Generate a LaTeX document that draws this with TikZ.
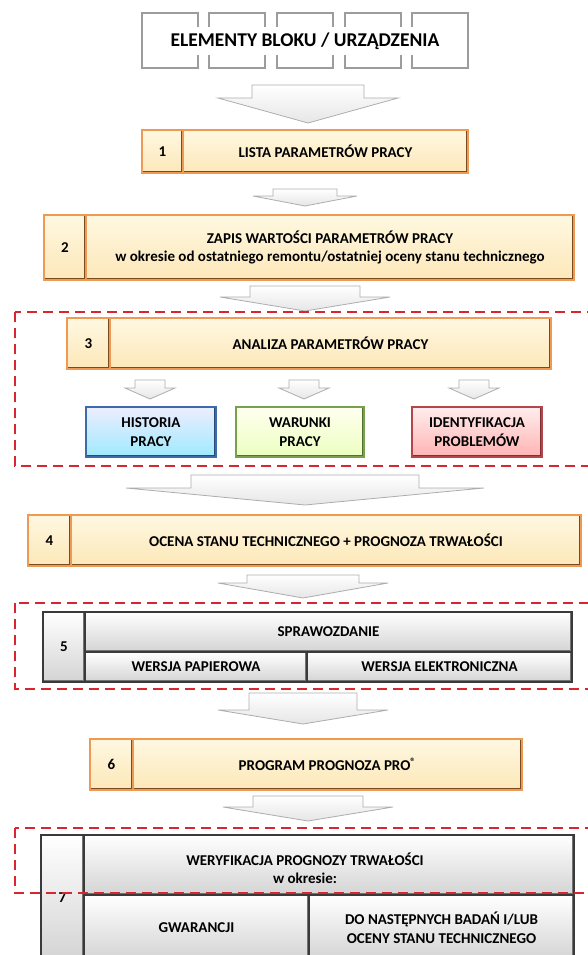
\documentclass[tikz,border=0pt]{standalone}
\usepackage{fontspec}
\setmainfont{Carlito}
\usetikzlibrary{positioning}
\definecolor{boxorange}{HTML}{EE9A55}
\definecolor{boxcream}{HTML}{FDF3CD}
\definecolor{boxbrown}{HTML}{7A4A20}
\definecolor{arrowline}{HTML}{ADADAD}
\definecolor{arrowfill}{HTML}{E6E6E6}
\definecolor{dashred}{HTML}{D9252F}
\definecolor{elemgray}{HTML}{9C9C9C}
\definecolor{blueline}{HTML}{3D6AA8}
\definecolor{greenline}{HTML}{77A14A}
\definecolor{redline}{HTML}{B2464A}
\definecolor{grayline}{HTML}{3A3A3A}
\newcommand{\grayarrow}[6]{%
  \draw[grayarr] (#1-#5,#2) -- (#1+#5,#2) -- (#1+#5,#3) -- (#1+#6,#3) -- (#1,#4)
    -- (#1-#6,#3) -- (#1-#5,#3) -- cycle;}
\begin{document}
\begin{tikzpicture}[x=1pt, y=-1pt,
  font=\bfseries\fontsize{15}{18.5}\selectfont,
  every node/.style={inner sep=0pt, outer sep=0pt, align=center},
  bevel/.style={path picture={\draw[#1, line width=4.5pt]
      (path picture bounding box.north east) -- (path picture bounding box.south east)
      -- (path picture bounding box.south west);}},
  cell/.style={draw=boxorange, line width=1.6pt, top color=boxcream!60, bottom color=boxcream!90!orange,
      minimum height=#1, bevel=boxbrown},
  graycell/.style={draw=grayline, line width=1.3pt, top color=white, bottom color=black!17,
      minimum height=#1, bevel=black!55},
  colbox/.style={draw=#1, line width=1.4pt, minimum width=130pt, minimum height=50pt,
      bevel=#1!70!black, anchor=north west},
  grayarr/.style={draw=arrowline, line width=0.8pt, top color=white, bottom color=arrowfill},
  elemline/.style={draw=elemgray, line width=2.2pt},
  dashbox/.style={draw=dashred, line width=2.2pt, dash pattern=on 10pt off 6pt}]
\clip (0,0) rectangle (588,955);

\foreach \x in {142,209,277,345,412}
  \draw[elemline] (\x,13) rectangle ++(56,55);
\node[fill=white, minimum width=306pt, minimum height=28pt,
  font=\bfseries\fontsize{19.5}{22}\selectfont] (elem) at (305,41) {ELEMENTY BLOKU / URZĄDZENIA};

\grayarrow{308}{85}{98}{123}{56}{90}
\node[cell=43pt, minimum width=41pt, anchor=north west] (num1) at (142,130) {1};
\node[cell=43pt, minimum width=285pt] (lista) [right=0pt of num1] {LISTA PARAMETRÓW PRACY};

\grayarrow{305}{189}{196}{206}{32}{52}
\node[cell=65pt, minimum width=42pt, anchor=north west] (num2) at (44,215) {2};
\node[cell=65pt, minimum width=488pt] (zapis) [right=0pt of num2]
  {ZAPIS WARTOŚCI PARAMETRÓW PRACY\\w okresie od ostatniego remontu/ostatniej oceny stanu technicznego};

\grayarrow{305}{286}{297}{311}{55}{85}
\node[cell=51pt, minimum width=43pt, anchor=north west] (num3) at (67,318) {3};
\node[cell=51pt, minimum width=441pt] (analiza) [right=0pt of num3] {ANALIZA PARAMETRÓW PRACY};

\foreach \xc in {150,304,474}
  \grayarrow{\xc}{380}{388}{399}{15}{25}
\node[colbox=blueline, top color=blue!7, bottom color=blue!22!cyan!38] (historia) at (86,407) {HISTORIA\\PRACY};
\node[colbox=greenline, top color=green!4!yellow!6, bottom color=green!30!yellow!25, minimum width=128pt] (warunki) at (236,407) {WARUNKI\\PRACY};
\node[colbox=redline, top color=red!7, bottom color=red!30] (problemy) at (412,407) {IDENTYFIKACJA\\PROBLEMÓW};

\grayarrow{305}{475}{488}{505}{114}{179}
\node[cell=51pt, minimum width=43pt, anchor=north west] (num4) at (28,515) {4};
\node[cell=51pt, minimum width=510pt] (ocena) [right=0pt of num4] {OCENA STANU TECHNICZNEGO + PROGNOZA TRWAŁOŚCI};

\grayarrow{303}{575}{583}{598}{56}{85}
\node[graycell=70pt, minimum width=42pt, anchor=north west] (num5) at (43,612) {5};
\node[graycell=40pt, minimum width=487pt, anchor=north west] (sprawozdanie) at (num5.north east) {SPRAWOZDANIE};
\node[graycell=30pt, minimum width=222pt, anchor=north west] (papier) at (sprawozdanie.south west) {WERSJA PAPIEROWA};
\node[graycell=30pt, minimum width=265pt] (elektron) [right=0pt of papier] {WERSJA ELEKTRONICZNA};

\grayarrow{303}{693}{710}{724}{54}{85}
\node[cell=51pt, minimum width=43pt, anchor=north west] (num6) at (90,739) {6};
\node[cell=51pt, minimum width=389pt] (program) [right=0pt of num6] {PROGRAM PROGNOZA PRO\textsuperscript{®}};

\grayarrow{308}{796}{807}{821}{55}{85}
\node[graycell=125pt, minimum width=43pt, anchor=north west] (num7) at (41,835) {7};
\node[graycell=60pt, minimum width=490pt, anchor=north west] (weryfikacja) at (num7.north east) {};
\node (weryfikacjatxt) at ([xshift=-24pt, yshift=-3pt]weryfikacja.center) {WERYFIKACJA PROGNOZY TRWAŁOŚCI\\w okresie:};
\node[graycell=65pt, minimum width=225pt, anchor=north west] (gwarancja) at (weryfikacja.south west) {GWARANCJI};
\node[graycell=65pt, minimum width=265pt] (badania) [right=0pt of gwarancja]
  {DO NASTĘPNYCH BADAŃ I/LUB\\OCENY STANU TECHNICZNEGO};

\draw[dashbox] (15,312) rectangle (600,466);
\draw[dashbox] (15,603) rectangle (600,689);
\draw[dashbox] (15,828) rectangle (600,893);
\end{tikzpicture}
\end{document}
